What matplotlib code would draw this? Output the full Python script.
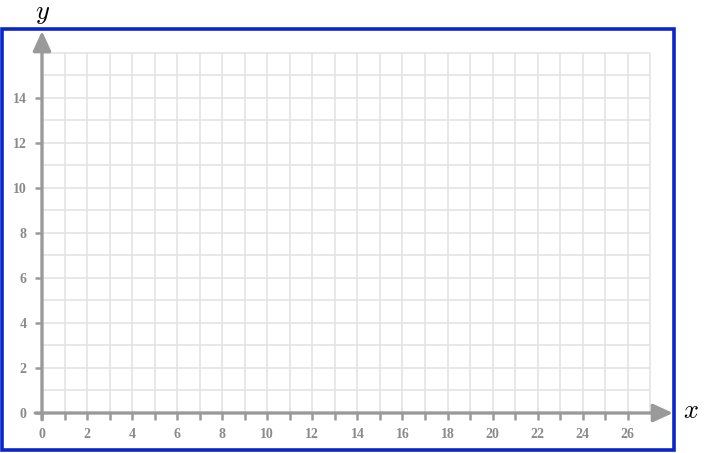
import matplotlib.pyplot as plt
from matplotlib.patches import Rectangle

# empty coordinate grid
grid_x = list(range(0, 28))
grid_y = list(range(0, 17))
x_ticks = list(range(0, 27))
x_labels = [str(v) if v % 2 == 0 else "" for v in x_ticks]
y_ticks = list(range(0, 15, 2))
y_labels = [str(v) for v in y_ticks]

plt.rcParams["mathtext.fontset"] = "cm"
plt.rcParams["font.family"] = ["Liberation Serif", "DejaVu Serif"]
plt.rcParams["font.weight"] = "bold"

W, H = 704, 453
fig = plt.figure(figsize=(W / 100, H / 100), dpi=100)

# axes placed so that origin sits at pixel (42, 413)
unit = 22.53
x0, y0 = 42, 413
xmax = (673 - x0) / unit
ymax = (y0 - 31) / unit
ax = fig.add_axes([x0 / W, (H - y0) / H, (673 - x0) / W, (y0 - 31) / H])
ax.set_xlim(0, xmax)
ax.set_ylim(0, ymax)
ax.patch.set_alpha(0)
for s in ax.spines.values():
    s.set_visible(False)

grid_col = "#e2e2e2"
ax.vlines(grid_x[1:], 0, grid_y[-1], color=grid_col, lw=1.1, zorder=1)
ax.hlines(grid_y[1:], 0, grid_x[-1], color=grid_col, lw=1.1, zorder=1)

axis_col = "#9a9a9a"
arrow = dict(arrowstyle="-|>,head_length=1.2,head_width=0.55",
             color=axis_col, lw=2.4, shrinkA=0, shrinkB=0)
ax.annotate("", xy=(xmax, 0), xytext=(-0.3, 0), arrowprops=arrow,
            annotation_clip=False, zorder=3)
ax.annotate("", xy=(0, ymax), xytext=(0, -0.3), arrowprops=arrow,
            annotation_clip=False, zorder=3)

ax.set_xticks(x_ticks, x_labels)
ax.set_yticks(y_ticks, y_labels)
ax.tick_params(axis="both", direction="out", length=5, width=1.8,
               color=axis_col, labelcolor="#8a8a8a", labelsize=10, pad=6)

# blue frame
fig.patches.append(Rectangle((2 / W, 3 / H), 672 / W, 421 / H, transform=fig.transFigure,
                             fill=False, edgecolor="#0a25cc", lw=2.6))

fig.text(43 / W, 1 - 14 / H, "$y$", fontsize=19, ha="center", va="center")
fig.text(691 / W, 1 - 411 / H, "$x$", fontsize=19, ha="center", va="center")

fig.savefig("out.png", dpi=100)
